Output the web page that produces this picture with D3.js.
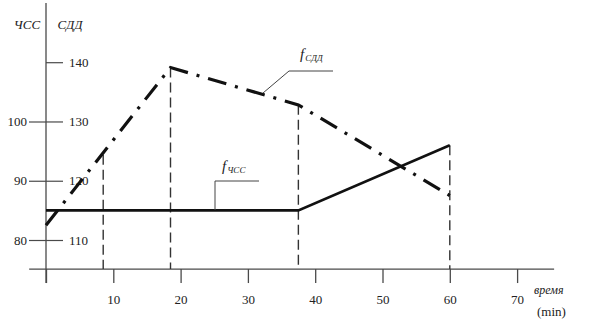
<!DOCTYPE html>
<html><head><meta charset="utf-8">
<script src="https://cdn.jsdelivr.net/npm/d3@7"></script>
<style>
html,body{margin:0;padding:0;background:#fff;}
svg{display:block;}
</style>
</head><body>
<svg id="chart" width="593" height="336"></svg>
<script>
// ---- data ----
const sddTimes = [0, 18.5, 37.5, 60];
const sddValues = [112.5, 139.1, 132.8, 117.5];
const hrTimes = [0, 37.5, 60];
const hrValues = [85, 85, 96];
const markerTimes = [8.5, 18.5, 37.5, 60];
const markerTopSdd = [124.4, 139.1, 132.8, 126];
const xTicks = [0, 10, 20, 30, 40, 50, 60, 70];
const hrTicks = [80, 90, 100];
const sddTicks = [110, 120, 130, 140];

const FONT = "'Liberation Serif'";
const svg = d3.select("#chart").attr("font-family", FONT);
const x = d3.scaleLinear().domain([0, 70]).range([46, 517.1]);
const ySdd = d3.scaleLinear().domain([110, 140]).range([240, 62.2]);
const yHr = d3.scaleLinear().domain([80, 100]).range([240, 121.5]);
const axisColor = "#4a4a4a";
const y0 = ySdd(105.1);

svg.append("line")
  .attr("x1", x(-2.5)).attr("x2", x(75.5))
  .attr("y1", y0).attr("y2", y0)
  .attr("stroke", axisColor).attr("stroke-width", 1.3);

const xAxis = svg.append("g").attr("transform", `translate(0,${y0})`)
  .call(d3.axisBottom(x).tickValues(xTicks).tickSize(14).tickPadding(12)
    .tickFormat(d => d === 0 ? "" : d));
xAxis.select(".domain").remove();
xAxis.attr("font-family", null).attr("font-size", null);
xAxis.selectAll("line").attr("stroke", axisColor).attr("stroke-width", 1.3);
xAxis.selectAll("text").attr("font-size", 13).attr("fill", "#222").style("font-family", FONT);

svg.append("line")
  .attr("x1", x(0)).attr("x2", x(0))
  .attr("y1", ySdd(150)).attr("y2", y0 + 14)
  .attr("stroke", axisColor).attr("stroke-width", 1.3);

const hrAxis = svg.append("g").attr("transform", `translate(${x(0)},0)`)
  .call(d3.axisLeft(yHr).tickValues(hrTicks).tickSize(17).tickPadding(2));
hrAxis.select(".domain").remove();
const sddAxis = svg.append("g").attr("transform", `translate(${x(0)},0)`)
  .call(d3.axisRight(ySdd).tickValues(sddTicks).tickSize(17).tickPadding(6));
sddAxis.select(".domain").remove();
[hrAxis, sddAxis].forEach(a => {
  a.attr("font-family", null).attr("font-size", null);
  a.selectAll("line").attr("stroke", axisColor).attr("stroke-width", 1.2);
  a.selectAll("text").attr("font-size", 13).attr("fill", "#222").style("font-family", FONT);
});

function label(xp, yp, size, italic, txt, anchor) {
  return svg.append("text").attr("x", xp).attr("y", yp)
    .attr("text-anchor", anchor || "start")
    .attr("font-size", size).attr("font-style", italic ? "italic" : "normal")
    .attr("fill", "#222").style("font-family", FONT).text(txt);
}
label(27, 29, 13, true, "ЧСС", "middle");
label(70, 29, 13, true, "СДД", "middle");
label(534, 294, 12, true, "время");
label(537, 316, 13, false, "(min)");

svg.append("g").selectAll("line").data(markerTimes).join("line")
  .attr("x1", d => x(d)).attr("x2", d => x(d))
  .attr("y1", (d, i) => ySdd(markerTopSdd[i])).attr("y2", y0)
  .attr("stroke", "#333").attr("stroke-width", 1.4)
  .attr("stroke-dasharray", "10,5");

const hrLine = d3.line().x(d => x(d[0])).y(d => yHr(d[1]));
svg.append("path")
  .datum(hrTimes.map((t, i) => [t, hrValues[i]]))
  .attr("d", hrLine).attr("fill", "none")
  .attr("stroke", "#111").attr("stroke-width", 2.6);

const sddLine = d3.line().x(d => x(d[0])).y(d => ySdd(d[1]));
svg.append("path")
  .datum(sddTimes.map((t, i) => [t, sddValues[i]]))
  .attr("d", sddLine).attr("fill", "none")
  .attr("stroke", "#111").attr("stroke-width", 3.2)
  .attr("stroke-dasharray", "19,9,3,9");

const lead = "#444";
svg.append("polyline")
  .attr("points", [[263, 93], [289, 71], [333, 71]].map(p => p.join(",")).join(" "))
  .attr("fill", "none").attr("stroke", lead).attr("stroke-width", 1);
svg.append("polyline")
  .attr("points", [[215, 210], [215, 181], [259, 181]].map(p => p.join(",")).join(" "))
  .attr("fill", "none").attr("stroke", lead).attr("stroke-width", 1);

const l1 = svg.append("text").attr("x", 300).attr("y", 59).attr("font-style", "italic")
  .attr("fill", "#222").style("font-family", FONT);
l1.append("tspan").attr("font-size", 15).text("f");
l1.append("tspan").attr("font-size", 9).attr("dx", 1).attr("dy", 2).text("СДД");
const l2 = svg.append("text").attr("x", 222).attr("y", 171).attr("font-style", "italic")
  .attr("fill", "#222").style("font-family", FONT);
l2.append("tspan").attr("font-size", 15).text("f");
l2.append("tspan").attr("font-size", 9).attr("dx", 1).attr("dy", 2).text("ЧСС");
</script>
</body></html>
